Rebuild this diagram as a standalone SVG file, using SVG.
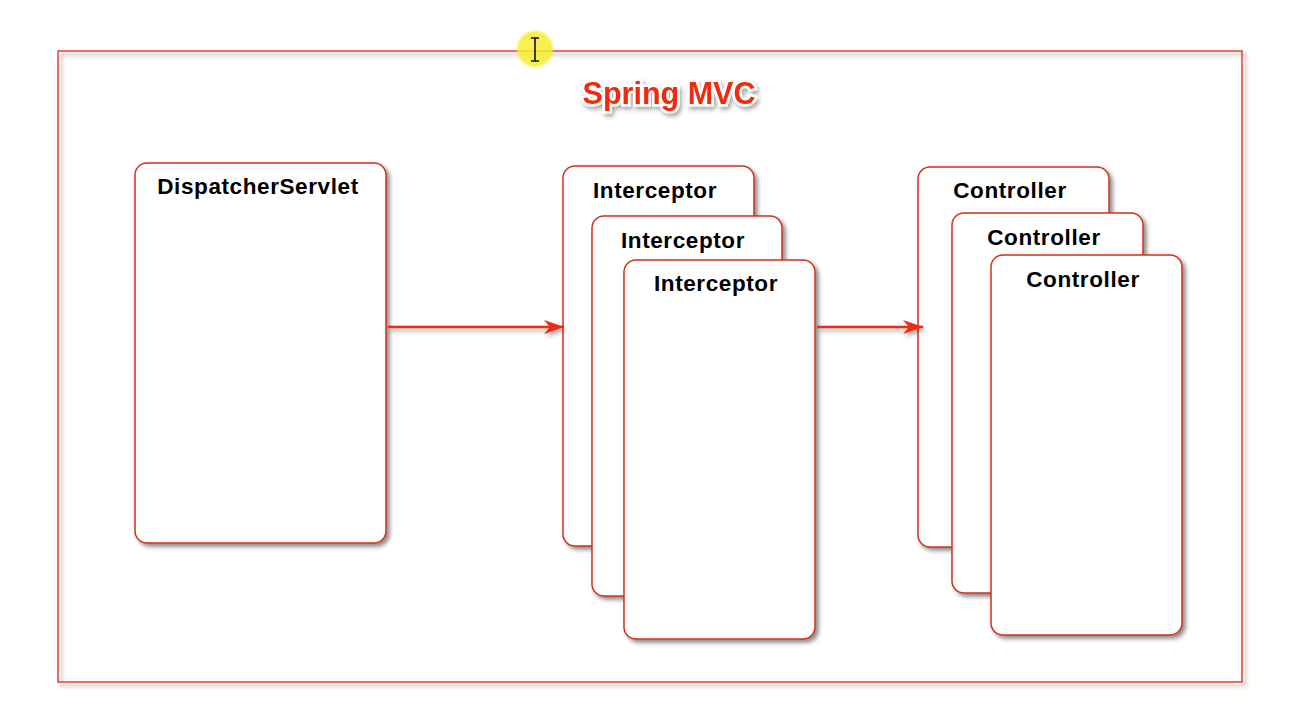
<svg xmlns="http://www.w3.org/2000/svg" width="1298" height="721" viewBox="0 0 1298 721">
<defs>
<filter id="sh" x="-10%" y="-10%" width="130%" height="130%">
<feDropShadow dx="3" dy="3" stdDeviation="2" flood-color="#000" flood-opacity="0.45"/>
</filter>
<filter id="shs" filterUnits="userSpaceOnUse" x="0" y="0" width="1298" height="721">
<feDropShadow dx="2" dy="3" stdDeviation="2" flood-color="#000" flood-opacity="0.35"/>
</filter>
<filter id="glow" x="-50%" y="-50%" width="200%" height="200%">
<feGaussianBlur stdDeviation="1.2"/>
</filter>
<marker id="ah" markerWidth="22" markerHeight="16" refX="20" refY="8" orient="auto" markerUnits="userSpaceOnUse">
<path d="M0,1 L20,8 L0,15 L6,8 Z" fill="#ee2a14"/>
</marker>
<style>
.box{fill:#fff;stroke:#d0301c;stroke-width:1.5;filter:url(#sh)}
.lbl{font-family:"Liberation Sans",Arial,sans-serif;font-weight:bold;font-size:22.5px;letter-spacing:0.6px;fill:#000;text-anchor:middle}
.conn{stroke:#ee2a14;stroke-width:2.5;fill:none;marker-end:url(#ah)}
</style>
</defs>
<rect width="1298" height="721" fill="#fff"/>
<g id="frame">
<rect x="58" y="51" width="1184" height="631" fill="none" stroke="#dd2a1a" stroke-width="1.3" filter="url(#sh)"/>
</g>
<g id="cursor">
<circle cx="535" cy="49" r="18" fill="#f6ee2e" opacity="0.85" filter="url(#glow)"/>
<path d="M531,38 H539 M535,38 V61 M531,61 H539" stroke="#111" stroke-width="1.6" fill="none"/>
</g>
<g id="title">
<text x="669" y="104" font-family="'Liberation Sans',Arial,sans-serif" font-weight="bold" font-size="30.5" text-anchor="middle" fill="#f22a10" stroke="#fff" stroke-width="5" paint-order="stroke" filter="url(#shs)">Spring MVC</text>
</g>
<g id="dispatcher">
<rect class="box" x="135" y="163" width="251" height="380" rx="12"/>
<text class="lbl" x="258" y="194">DispatcherServlet</text>
</g>
<g id="interceptor1">
<rect class="box" x="563" y="166" width="191" height="380" rx="12"/>
<text class="lbl" x="655" y="198">Interceptor</text>
</g>
<g id="interceptor2">
<rect class="box" x="592" y="216" width="190" height="380" rx="12"/>
<text class="lbl" x="683" y="248">Interceptor</text>
</g>
<g id="interceptor3">
<rect class="box" x="624" y="260" width="191" height="379" rx="12"/>
<text class="lbl" x="716" y="291">Interceptor</text>
</g>
<g id="controller1">
<rect class="box" x="918" y="167" width="191" height="380" rx="12"/>
<text class="lbl" x="1010" y="198">Controller</text>
</g>
<g id="controller2">
<rect class="box" x="952" y="213" width="191" height="380" rx="12"/>
<text class="lbl" x="1044" y="245">Controller</text>
</g>
<g id="controller3">
<rect class="box" x="991" y="255" width="191" height="380" rx="12"/>
<text class="lbl" x="1083" y="287">Controller</text>
</g>
<g id="connectors" filter="url(#shs)">
<line class="conn" x1="388" y1="327" x2="564" y2="327"/>
<line class="conn" x1="817" y1="327" x2="923" y2="327"/>
</g>
</svg>
